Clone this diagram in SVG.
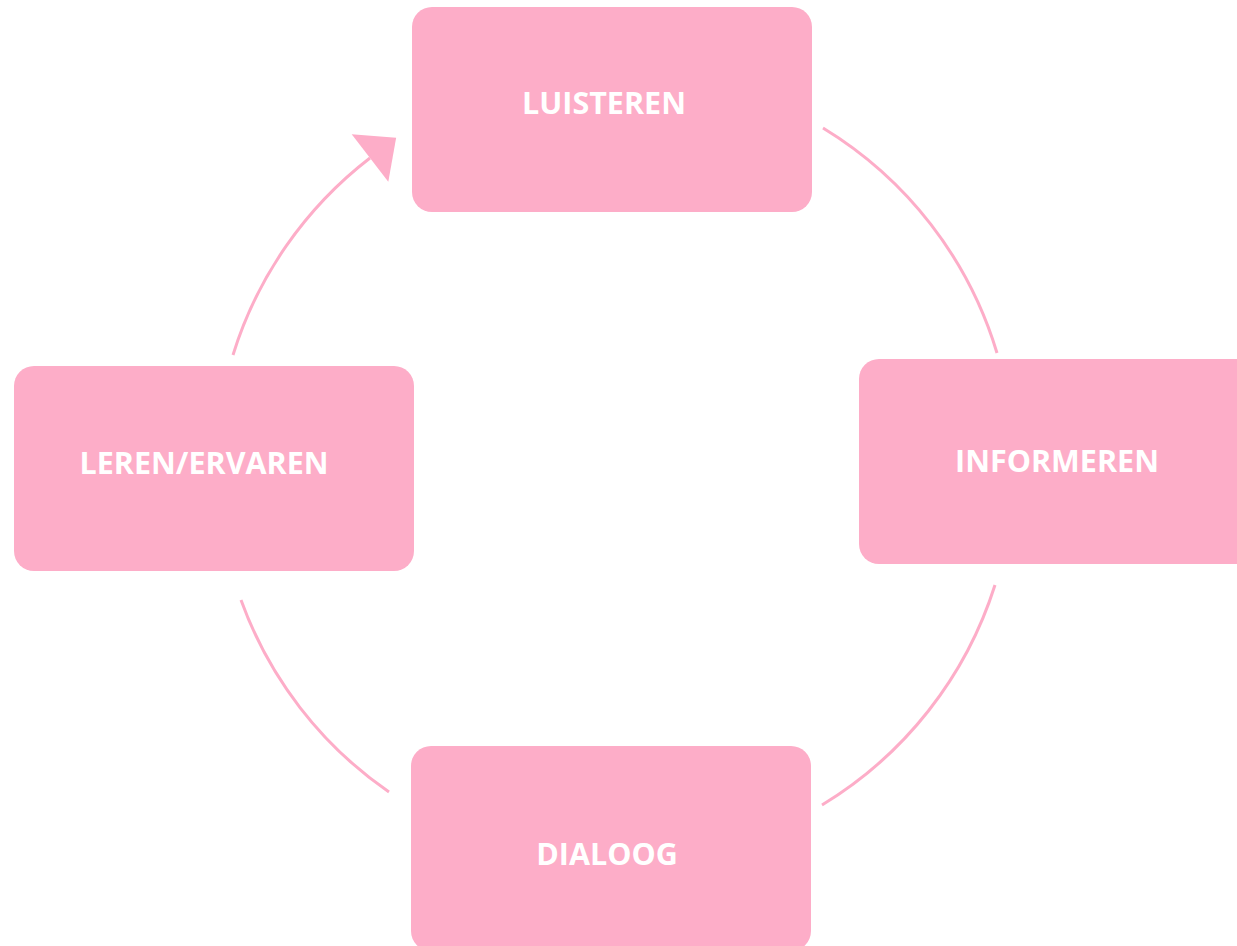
<svg xmlns="http://www.w3.org/2000/svg" width="1237" height="946" viewBox="0 0 1237 946">
<style>
.box{fill:#fdadc8;}
.lbl{fill:#ffffff;font-family:"Open Sans","Liberation Sans",sans-serif;font-weight:700;font-size:30.5px;text-anchor:middle;}
.arc{fill:none;stroke:#fdadc8;stroke-width:3;}
</style>
<defs>
<marker id="ah" markerUnits="userSpaceOnUse" markerWidth="40" markerHeight="64" viewBox="0 -32 36 64" refX="0" refY="0" orient="auto">
<path d="M0,-30 L33,0 L0,30 z" fill="#fdadc8"/>
</marker>
</defs>
<rect width="1237" height="946" fill="#ffffff"/>
<g id="connectors">
<path class="arc" d="M823,128 A397,397 0 0 1 997,353"/>
<path class="arc" d="M995,585 A397,397 0 0 1 822,805"/>
<path class="arc" d="M389,792 A397,397 0 0 1 241,600"/>
<path class="arc" d="M233,355 A397,397 0 0 1 370,158" marker-end="url(#ah)"/>
</g>
<g id="luisteren">
<rect class="box" x="412" y="7" width="400" height="205" rx="20"/>
<text class="lbl" x="604" y="114">LUISTEREN</text>
</g>
<g id="informeren">
<rect class="box" x="859" y="359" width="400" height="205" rx="20"/>
<text class="lbl" x="1057" y="472">INFORMEREN</text>
</g>
<g id="dialoog">
<rect class="box" x="411" y="746" width="400" height="205" rx="20"/>
<text class="lbl" x="607" y="865">DIALOOG</text>
</g>
<g id="leren-ervaren">
<rect class="box" x="14" y="366" width="400" height="205" rx="20"/>
<text class="lbl" x="204" y="474">LEREN/ERVAREN</text>
</g>
</svg>
